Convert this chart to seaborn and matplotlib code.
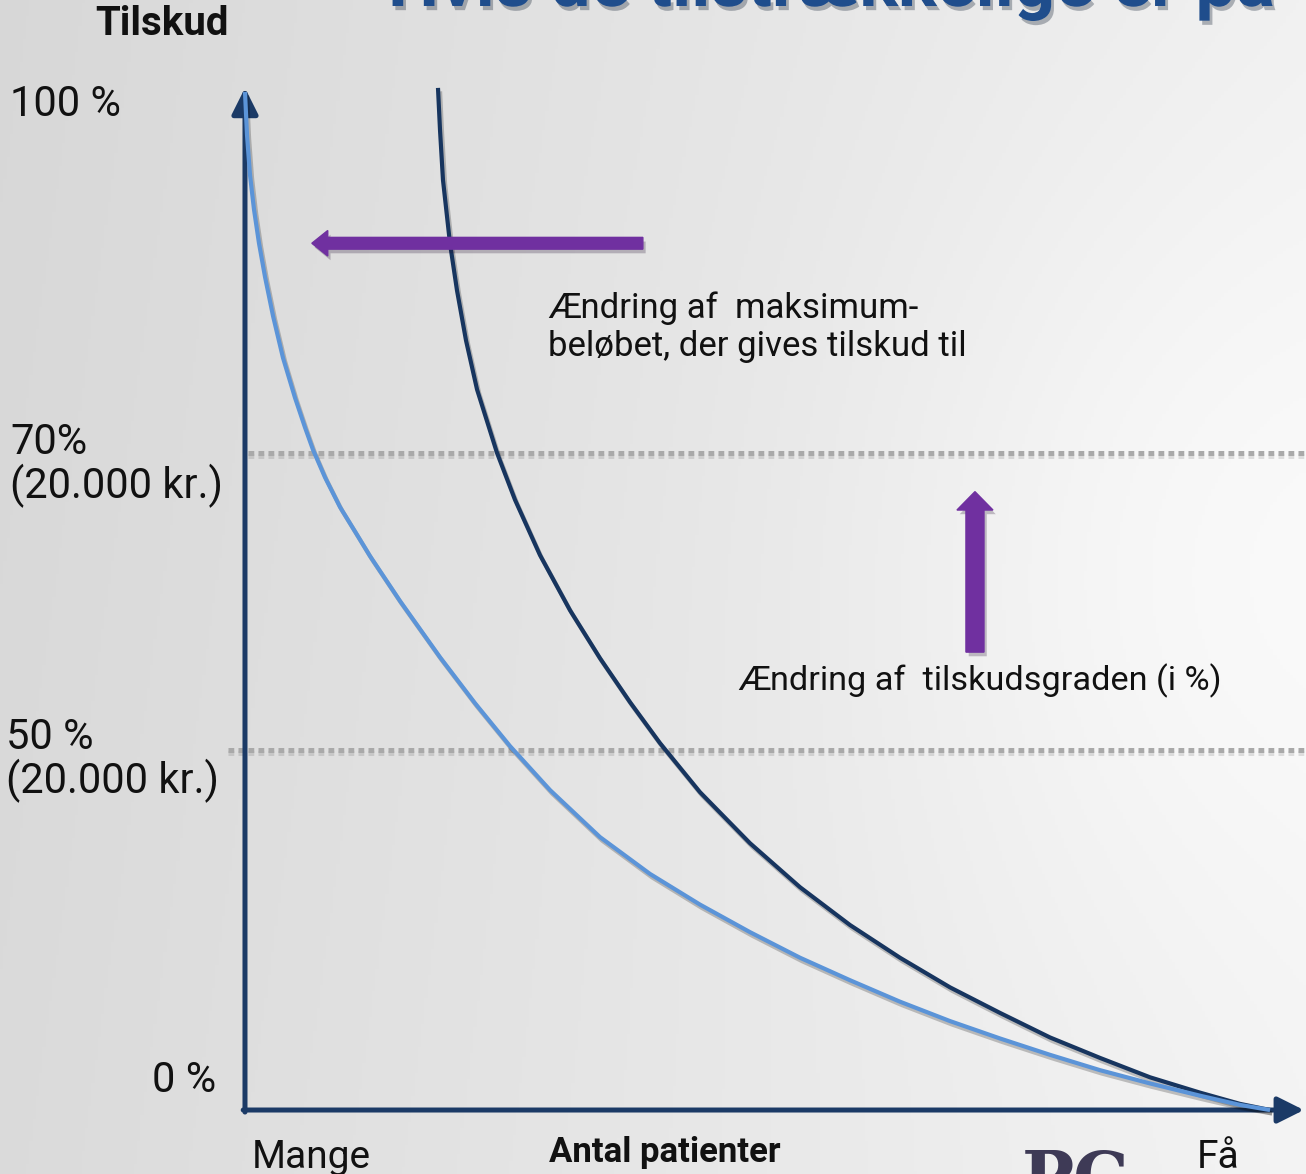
import numpy as np
import pandas as pd
import matplotlib
matplotlib.use("Agg")
import matplotlib.pyplot as plt
import matplotlib.patheffects as pe
import seaborn as sns

# Subsidy curves: x = number of patients (0 = "Mange", 100 = "Få"), y = subsidy level (0..100)
patients_current = [0.0, 0.19, 0.47, 0.85, 1.32, 1.89, 2.64, 3.58, 4.71, 5.65, 6.41, 7.54,
                    8.95, 10.37, 11.78, 14.61, 18.38, 21.68, 24.98, 28.75, 33.46, 38.17,
                    42.88, 47.60, 52.31, 57.02, 61.73, 66.45, 71.16, 75.87, 80.58, 85.30,
                    90.01, 93.78, 96.61]
subsidy_current = [99.6, 95.4, 91.5, 88.1, 84.8, 81.5, 77.7, 73.6, 69.7, 66.8, 64.6, 61.9,
                   59.0, 56.6, 54.2, 49.8, 44.3, 39.8, 35.6, 31.3, 26.7, 23.1,
                   20.1, 17.4, 14.9, 12.7, 10.6, 8.7, 7.0, 5.4, 3.9, 2.6,
                   1.4, 0.5, 0.0]

patients_shifted = [18.19, 18.38, 18.66, 19.32, 19.98, 20.83, 21.87, 23.75, 25.45, 27.80,
                    30.63, 33.46, 36.29, 39.11, 42.88, 47.60, 52.31, 57.02, 61.73, 66.45,
                    71.16, 75.87, 80.58, 85.30, 90.01, 93.78, 96.61]
subsidy_shifted = [100.0, 95.9, 91.0, 84.8, 80.2, 75.3, 70.5, 64.3, 59.7, 54.3,
                   48.9, 44.2, 39.9, 35.9, 31.1, 26.1, 21.8, 18.1, 14.9, 12.0,
                   9.5, 7.1, 5.1, 3.2, 1.7, 0.6, 0.0]

# Reference levels (dotted lines) and their labels
level_labels = ["70%\n(20.000 kr.)", "50 %\n(20.000 kr.)"]
level_values = [64.3, 35.2]
level_starts = [0.3, -1.6]

axis_top_label = "100 %"
axis_bottom_label = "0 %"
x_left_label, x_right_label = "Mange", "Få"

sns.set_theme(style="white")
FONT = ["Roboto", "DejaVu Sans"]
plt.rcParams["font.family"] = FONT

W, H = 1306, 1174
fig = plt.figure(figsize=(W / 100, H / 100), dpi=100)

# soft grey slide background, darker on the left with a light glow to the right
bg = fig.add_axes([0, 0, 1, 1], zorder=0)
gx, gy = np.meshgrid(np.linspace(0, 1, 400), np.linspace(0, 1, 360))
shade = 0.845 + 0.095 * gx + 0.012 * gy
shade += 0.035 * np.exp(-(((gx - 0.93) / 0.28) ** 2 + ((gy - 0.47) / 0.35) ** 2))
shade = np.clip(shade, 0, 1)
bg.imshow(np.dstack([shade] * 3), aspect="auto", extent=[0, 1, 0, 1], origin="upper")
bg.set_axis_off()

ax = fig.add_axes([0, 0, 1, 1], zorder=1)
ax.patch.set_alpha(0)
ax.set_xlim(-23.09, 100.0)
ax.set_ylim(-6.26, 108.6)
ax.set_axis_off()

shadow = [pe.SimpleLineShadow(offset=(1.5, -2.5), alpha=0.22, shadow_color="black"), pe.Normal()]

# dotted reference levels
for val, start in zip(level_values, level_starts):
    ax.plot([start, 100], [val, val], color="#a9a9a9", lw=3.6,
            linestyle=(0, (1.15, 0.85)), solid_capstyle="butt", dash_capstyle="butt",
            zorder=2, path_effects=[pe.SimpleLineShadow(offset=(0, -2), alpha=0.12), pe.Normal()])

# axes with arrow heads
navy = "#1b3a66"
ax.annotate("", xy=(0, 100), xytext=(0, -0.2),
            arrowprops=dict(arrowstyle="-|>,head_length=0.8,head_width=0.4", color=navy, lw=3.6,
                            shrinkA=0, shrinkB=0, mutation_scale=20), zorder=3)
ax.annotate("", xy=(99.8, 0), xytext=(-0.17, 0),
            arrowprops=dict(arrowstyle="-|>,head_length=0.8,head_width=0.4", color=navy, lw=3.6,
                            shrinkA=0, shrinkB=0, mutation_scale=20), zorder=3)

curves = pd.concat([
    pd.DataFrame({"patienter": patients_shifted, "tilskud": subsidy_shifted, "kurve": "shifted"}),
    pd.DataFrame({"patienter": patients_current, "tilskud": subsidy_current, "kurve": "current"}),
])
sns.lineplot(data=curves, x="patienter", y="tilskud", hue="kurve", sort=False,
             palette={"shifted": "#17355f", "current": "#5b94d8"}, lw=3.0,
             legend=False, ax=ax, zorder=4)
for line in ax.get_lines()[-2:]:
    line.set_path_effects(shadow)
    line.set_solid_capstyle("butt")
    line.set_solid_joinstyle("round")

# purple arrows
purple = "#7030a0"
ax.arrow(37.5, 84.8, -31.2, 0, width=1.15, head_width=2.5, head_length=1.5,
         length_includes_head=True, color=purple, zorder=5,
         path_effects=[pe.SimplePatchShadow(offset=(2, -3), alpha=0.25), pe.Normal()])
ax.arrow(68.8, 44.8, 0, 15.7, width=1.7, head_width=3.4, head_length=1.8,
         length_includes_head=True, color=purple, zorder=5,
         path_effects=[pe.SimplePatchShadow(offset=(2, -3), alpha=0.25), pe.Normal()])


def px(x, y):
    return x / W, 1 - y / H


# slide title and logo running past the edges
fig.text(*px(388, 6), "Hvis de tilstrækkelige er på", fontsize=52, fontweight="bold",
         color="#1f4d8c", va="baseline", ha="left", zorder=6,
         path_effects=[pe.withSimplePatchShadow(offset=(2, -3), alpha=0.3)])
fig.text(*px(1022, 1148), "PC", fontsize=50, fontweight="bold", color="#3e3a56",
         va="top", ha="left", family=["DejaVu Serif"], zorder=6)

black = "#111111"
fig.text(*px(162, 24), "Tilskud", fontsize=29, fontweight="bold", color=black, ha="center", va="center")
fig.text(*px(10, 105), axis_top_label, fontsize=30, color=black, ha="left", va="center")
fig.text(*px(10, 465), level_labels[0], fontsize=30, color=black, ha="left", va="center", linespacing=1.05)
fig.text(*px(6, 760), level_labels[1], fontsize=30, color=black, ha="left", va="center", linespacing=1.05)
fig.text(*px(216, 1080), axis_bottom_label, fontsize=30, color=black, ha="right", va="center")

fig.text(*px(252, 1168), x_left_label, fontsize=28, color=black, ha="left", va="baseline")
fig.text(*px(665, 1162), "Antal patienter", fontsize=25, fontweight="bold", color=black,
         ha="center", va="baseline")
fig.text(*px(1240, 1168), x_right_label, fontsize=28, color=black, ha="right", va="baseline")

fig.text(*px(548, 327), "Ændring af  maksimum-\nbeløbet, der gives tilskud til", fontsize=25,
         color=black, ha="left", va="center", linespacing=1.2)
fig.text(*px(738, 681), "Ændring af  tilskudsgraden (i %)", fontsize=24.7, color=black,
         ha="left", va="center")

fig.savefig("out.png", dpi=100)
